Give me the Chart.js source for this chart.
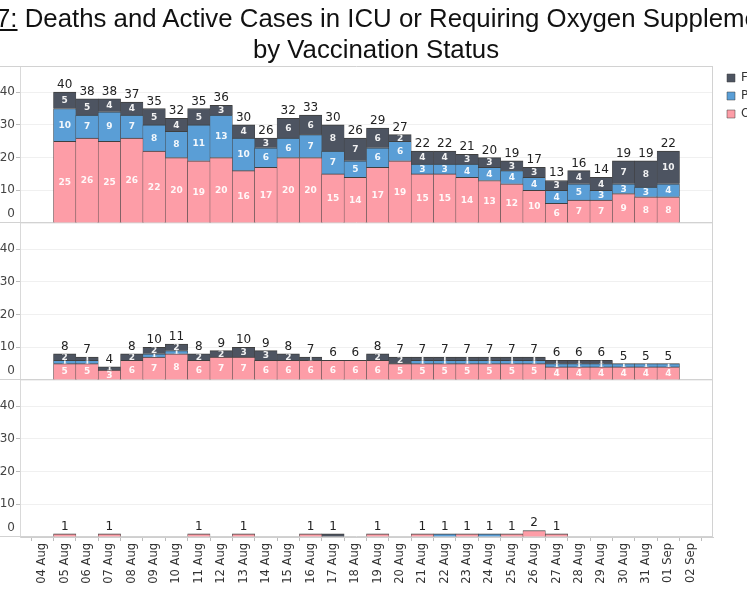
<!DOCTYPE html>
<html>
<head>
<meta charset="utf-8">
<script src="https://cdn.jsdelivr.net/npm/chart.js@4.4.1/dist/chart.umd.min.js"></script>
<style>
  html, body { margin: 0; padding: 0; background: #fff; }
  #marco { position: relative; width: 747px; height: 598px; overflow: hidden; }
  #grafico { position: absolute; left: 0; top: 0; }
  #titulo {
    position: absolute; top: 3px; left: -224px; width: 1200px;
    text-align: center; white-space: nowrap;
    font-family: "Liberation Sans", Arial, sans-serif; font-size: 25.8px; line-height: 31px; color: #111;
  }
  #titulo .fig { text-decoration: underline; }
</style>
</head>
<body>
<div id="marco">
  <canvas id="grafico" width="747" height="598"></canvas>
  <div id="titulo"><span class="fig">Figure 7:</span> Deaths and Active Cases in ICU or Requiring Oxygen Supplementation<br>by Vaccination Status</div>
</div>
<script>
// =======================
// DATOS (04 Aug .. 02 Sep)
// =======================
const fechas = ['04 Aug', '05 Aug', '06 Aug', '07 Aug', '08 Aug', '09 Aug', '10 Aug', '11 Aug', '12 Aug', '13 Aug',
  '14 Aug', '15 Aug', '16 Aug', '17 Aug', '18 Aug', '19 Aug', '20 Aug', '21 Aug', '22 Aug', '23 Aug',
  '24 Aug', '25 Aug', '26 Aug', '27 Aug', '28 Aug', '29 Aug', '30 Aug', '31 Aug', '01 Sep', '02 Sep'];

const estados = ['Others', 'Partially Vaccinated', 'Fully Vaccinated'];
const colores = ['#FD9DA7', '#5A9ED6', '#4D5461'];

// panel superior: requiring oxygen supplementation
const oxiNoVac    = [null, 25, 26, 25, 26, 22, 20, 19, 20, 16, 17, 20, 20, 15, 14, 17, 19, 15, 15, 14, 13, 12, 10, 6, 7, 7, 9, 8, 8, null];
const oxiParcial  = [null, 10, 7, 9, 7, 8, 8, 11, 13, 10, 6, 6, 7, 7, 5, 6, 6, 3, 3, 4, 4, 4, 4, 4, 5, 3, 3, 3, 4, null];
const oxiCompleta = [null, 5, 5, 4, 4, 5, 4, 5, 3, 4, 3, 6, 6, 8, 7, 6, 2, 4, 4, 3, 3, 3, 3, 3, 4, 4, 7, 8, 10, null];

// panel medio: ICU
const uciNoVac    = [null, 5, 5, 3, 6, 7, 8, 6, 7, 7, 6, 6, 6, 6, 6, 6, 5, 5, 5, 5, 5, 5, 5, 4, 4, 4, 4, 4, 4, null];
const uciParcial  = [null, 1, 1, 0, 0, 1, 1, 0, 0, 0, 0, 0, 0, 0, 0, 0, 0, 1, 1, 1, 1, 1, 1, 1, 1, 1, 1, 1, 1, null];
const uciCompleta = [null, 2, 1, 1, 2, 2, 2, 2, 2, 3, 3, 2, 1, 0, 0, 2, 2, 1, 1, 1, 1, 1, 1, 1, 1, 1, 0, 0, 0, null];

// panel inferior: deaths
const muerteNoVac    = [null, 1, 0, 1, 0, 0, 0, 1, 0, 1, 0, 0, 1, 0, 0, 1, 0, 1, 0, 1, 0, 1, 2, 1, 0, 0, 0, 0, 0, null];
const muerteParcial  = [null, 0, 0, 0, 0, 0, 0, 0, 0, 0, 0, 0, 0, 0, 0, 0, 0, 0, 1, 0, 1, 0, 0, 0, 0, 0, 0, 0, 0, null];
const muerteCompleta = [null, 0, 0, 0, 0, 0, 0, 0, 0, 0, 0, 0, 0, 1, 0, 0, 0, 0, 0, 0, 0, 0, 0, 0, 0, 0, 0, 0, 0, null];

const ticksY = [0, 10, 20, 30, 40];

const paneles = [
  { eje: 'yOxi', series: [oxiNoVac, oxiParcial, oxiCompleta], etiquetas: true },
  { eje: 'yUci', series: [uciNoVac, uciParcial, uciCompleta], etiquetas: true },
  { eje: 'yMuerte', series: [muerteNoVac, muerteParcial, muerteCompleta], etiquetas: false }
];

const fuente = '"DejaVu Sans", sans-serif';

// solo los dias con valor
function puntos(serie) {
  return serie.map((v, i) => (v ? { x: i, y: v } : null)).filter(p => p);
}

const datasets = [];
paneles.forEach((p, pi) => {
  p.series.forEach((serie, si) => {
    datasets.push({
      label: estados[si],
      data: puntos(serie),
      yAxisID: p.eje,
      stack: 'fecha',
      panel: pi,
      backgroundColor: colores[si],
      borderColor: '#3f3f3f',
      borderWidth: { top: 1, left: 0.5, right: 0.5, bottom: 0 },
      barPercentage: 1,
      categoryPercentage: 1
    });
  });
});

function ejeY() {
  return {
    type: 'linear',
    position: 'left',
    stack: 'paneles',
    stackWeight: 1,
    stacked: true,
    min: 0,
    max: 48,
    border: { display: true, color: '#d9d9d9' },
    grid: {
      color: '#f0f0f0',
      tickLength: 4,
      tickColor: c => (c.tick && c.tick.value === 0 ? 'rgba(0,0,0,0)' : '#bdbdbd')
    },
    afterBuildTicks: s => { s.ticks = ticksY.map(v => ({ value: v })); },
    ticks: {
      padding: 1,
      color: '#444',
      font: { family: fuente, size: 12 },
      callback: v => (v === 0 ? '' : v)
    },
    afterFit: s => { s.width = 20; }
  };
}

// =======================
// PLUGIN: lineas de panel y etiquetas
// =======================
const etiquetasBarras = {
  id: 'etiquetasBarras',
  afterLayout(chart) {
    // la leyenda del original queda un poco mas a la derecha
    chart.legend.left += 8;
    chart.legend.right += 8;
  },
  beforeDatasetsDraw(chart) {
    const { ctx, chartArea } = chart;
    ctx.save();
    ctx.strokeStyle = '#d2d2d2';
    ctx.lineWidth = 1;
    ctx.beginPath();
    ctx.moveTo(0, Math.round(chartArea.top) + 0.5);
    ctx.lineTo(chartArea.right, Math.round(chartArea.top) + 0.5);
    paneles.forEach(p => {
      const y = Math.round(chart.scales[p.eje].bottom) - 0.5;
      ctx.moveTo(0, y);
      ctx.lineTo(chartArea.right, y);
    });
    ctx.moveTo(Math.round(chartArea.right) - 0.5, chartArea.top);
    ctx.lineTo(Math.round(chartArea.right) - 0.5, chartArea.bottom);
    ctx.stroke();
    ctx.restore();
  },
  afterDatasetsDraw(chart) {
    const { ctx } = chart;
    const x = chart.scales.x;
    ctx.save();
    ctx.textAlign = 'center';

    // valor de cada tramo, recortado al tramo
    ctx.font = 'bold 9px ' + fuente;
    ctx.fillStyle = 'rgba(255,255,255,0.92)';
    ctx.textBaseline = 'middle';
    chart.data.datasets.forEach((ds, i) => {
      if (!paneles[ds.panel].etiquetas) return;
      chart.getDatasetMeta(i).data.forEach((barra, j) => {
        const { x: bx, y: by, base, width } = barra.getProps(['x', 'y', 'base', 'width'], true);
        const arriba = Math.min(by, base);
        const alto = Math.abs(base - by);
        ctx.save();
        ctx.beginPath();
        ctx.rect(bx - width / 2, arriba, width, alto);
        ctx.clip();
        ctx.fillText(ds.data[j].y, bx, arriba + alto / 2 + 0.5);
        ctx.restore();
      });
    });

    // totales sobre cada barra
    ctx.font = '12px ' + fuente;
    ctx.fillStyle = '#222';
    ctx.textBaseline = 'alphabetic';
    paneles.forEach(p => {
      const y = chart.scales[p.eje];
      fechas.forEach((f, i) => {
        const total = p.series.reduce((s, serie) => s + (serie[i] || 0), 0);
        if (!total) return;
        ctx.fillText(total, x.getPixelForValue(i), y.getPixelForValue(total) - 4);
      });
    });

    // el "0" de cada panel va por encima de la base
    ctx.textAlign = 'right';
    ctx.textBaseline = 'middle';
    ctx.fillStyle = '#444';
    paneles.forEach(p => {
      const y = chart.scales[p.eje];
      ctx.fillText('0', y.right - 5, y.getPixelForValue(0) - 9);
    });
    ctx.restore();
  }
};

// =======================
// GRAFICO
// =======================
new Chart(document.getElementById('grafico'), {
  type: 'bar',
  data: { datasets },
  plugins: [etiquetasBarras],
  options: {
    responsive: false,
    animation: false,
    layout: { padding: { top: 66 } },
    plugins: {
      title: { display: false },
      tooltip: { enabled: false },
      legend: {
        position: 'right',
        align: 'start',
        reverse: true,
        maxWidth: 34,
        labels: {
          boxWidth: 8,
          boxHeight: 8,
          padding: 6,
          color: '#333',
          font: { family: fuente, size: 12 },
          filter: item => item.datasetIndex < 3
        }
      }
    },
    scales: {
      x: {
        type: 'linear',
        min: -1,
        max: 30,
        offset: false,
        stacked: true,
        border: { display: true, color: '#cfcfcf' },
        grid: { drawOnChartArea: false, drawTicks: true, tickLength: 4, color: '#bdbdbd' },
        ticks: {
          stepSize: 1,
          autoSkip: false,
          maxRotation: 90,
          minRotation: 90,
          padding: 2,
          color: '#333',
          font: { family: fuente, size: 11.5 },
          callback: v => fechas[v] || ''
        },
        afterFit: s => { s.height = 61; }
      },
      // los ejes apilados se colocan de abajo hacia arriba
      yMuerte: ejeY(),
      yUci: ejeY(),
      yOxi: ejeY()
    }
  }
});
</script>
</body>
</html>
